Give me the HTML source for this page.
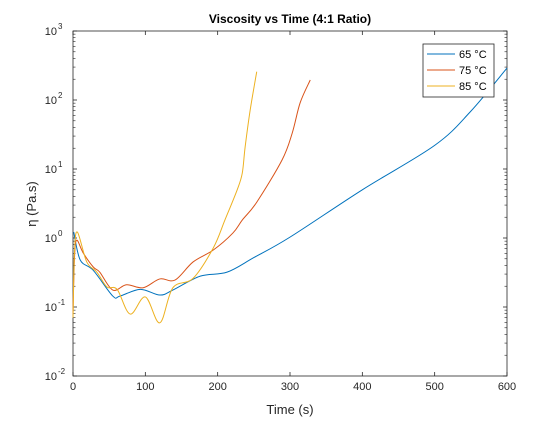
<!DOCTYPE html>
<html><head><meta charset="utf-8"><style>
body{margin:0;background:#fff;}
svg{font-family:"Liberation Sans",sans-serif;}
</style></head><body>
<svg id="c" width="560" height="420" viewBox="0 0 560 420">
<rect x="0" y="0" width="560" height="420" fill="#fff"/>
<text x="290" y="23" font-size="12" font-weight="bold" text-anchor="middle" fill="#000">Viscosity vs Time (4:1 Ratio)</text>
<g id="plot"></g>
</svg>
<script>
const xTicks=[0,100,200,300,400,500,600];
const yExps=[-2,-1,0,1,2,3];
const seriesNames=["65 °C","75 °C","85 °C"];
const t65=[1,10,28,55,65,93,120,138,176,213,250,300,400,500,549,600];
const v65=[1.22,0.48,0.34,0.144,0.144,0.18,0.149,0.176,0.28,0.32,0.52,1.03,5.0,22,67,290];
const t75=[0,2,5,14,28,37,55,74,97,120,141,166,194,221,234,254,289,303,314,328];
const v75=[0.08,0.5,0.93,0.61,0.38,0.32,0.176,0.21,0.19,0.255,0.246,0.45,0.67,1.18,1.82,3.3,13.5,33,91,195];
const t85=[0,2,6,19,33,47,61,79,100,120,138,166,194,210,227,234,238,245,254];
const v85=[0.07,0.6,1.22,0.45,0.32,0.195,0.18,0.079,0.14,0.059,0.19,0.26,0.72,1.82,5.0,8.7,21,72,257];
const colors=["#0072BD","#D95319","#EDB120"];
const L=73,R=507,T=31,B=376;
const xs=t=>L+(t-0)/(600-0)*(R-L);
const ys=v=>B-(Math.log10(v)+2)/5*(B-T);
const NS="http://www.w3.org/2000/svg";
const g=document.getElementById('plot');
function mk(tag,attrs){const e=document.createElementNS(NS,tag);for(const k in attrs)e.setAttribute(k,attrs[k]);g.appendChild(e);return e;}
function path(ts,vs){
  const p=ts.map((t,i)=>[xs(t),ys(vs[i])]);
  let d="M"+p[0][0].toFixed(2)+","+p[0][1].toFixed(2);
  for(let i=0;i<p.length-1;i++){
    const p0=p[Math.max(0,i-1)],p1=p[i],p2=p[i+1],p3=p[Math.min(p.length-1,i+2)];
    const c1=[p1[0]+(p2[0]-p0[0])/6,p1[1]+(p2[1]-p0[1])/6];
    const c2=[p2[0]-(p3[0]-p1[0])/6,p2[1]-(p3[1]-p1[1])/6];
    d+=" C"+c1.join(",")+" "+c2.join(",")+" "+p2.join(",");
  }
  return d;
}
let e=mk('rect',{x:L,y:T,width:R-L,height:B-T,fill:'none',stroke:'#262626','stroke-width':0.8});


xTicks.forEach(t=>{
  const x=xs(t);
  let l=mk('line',{x1:x,x2:x,y1:B,y2:B-4,stroke:'#262626','stroke-width':0.8});
  
  
  l=mk('line',{x1:x,x2:x,y1:T,y2:T+4,stroke:'#262626','stroke-width':0.8});
  
  
  const tx=mk('text',{x:x,y:B+14,'font-size':11,'text-anchor':'middle',fill:'#262626'});
  tx.textContent=t;
  
  
});
yExps.forEach((ex,i)=>{
  const y=ys(Math.pow(10,ex));
  let l=mk('line',{x1:L,x2:L+4,y1:y,y2:y,stroke:'#262626','stroke-width':0.8});
  
  
  l=mk('line',{x1:R,x2:R-4,y1:y,y2:y,stroke:'#262626','stroke-width':0.8});
  
  
  const tx=mk('text',{x:L-16,y:y+4,'font-size':11,'text-anchor':'end',fill:'#262626'});
  tx.textContent="10";
  
  
  const sp=mk('text',{x:L-15,y:y-2,'font-size':8,'text-anchor':'start',fill:'#262626'});
  sp.textContent=ex;
  
  
  if(i<yExps.length-1){
    for(let m=2;m<10;m++){
      const ym=ys(m*Math.pow(10,ex));
      let a=mk('line',{x1:L,x2:L+2.5,y1:ym,y2:ym,stroke:'#262626','stroke-width':0.6});
      
      
      a=mk('line',{x1:R,x2:R-2.5,y1:ym,y2:ym,stroke:'#262626','stroke-width':0.6});
      
      
    }
  }
});
[[t65,v65],[t75,v75],[t85,v85]].forEach((s,i)=>{
  const p=mk('path',{d:path(s[0],s[1]),fill:'none',stroke:colors[i],'stroke-width':1});
  
  
});
let xl=mk('text',{x:290,y:414,'font-size':13,'text-anchor':'middle',fill:'#262626'});
xl.textContent="Time (s)";


let yl=mk('text',{x:0,y:0,'font-size':13,'text-anchor':'middle',fill:'#262626',transform:'translate(36,204) rotate(-90)'});
yl.textContent="η (Pa.s)";


let lg=mk('rect',{x:423,y:44,width:71,height:53,fill:'#fff',stroke:'#262626','stroke-width':0.8});


seriesNames.forEach((n,i)=>{
  const y=54+i*16;
  const l=mk('line',{x1:427,x2:455,y1:y,y2:y,stroke:colors[i],'stroke-width':1});
  
  
  const tx=mk('text',{x:459,y:y+4,'font-size':11,fill:'#000'});
  tx.textContent=n;
  
  
});
</script>
</body></html>
